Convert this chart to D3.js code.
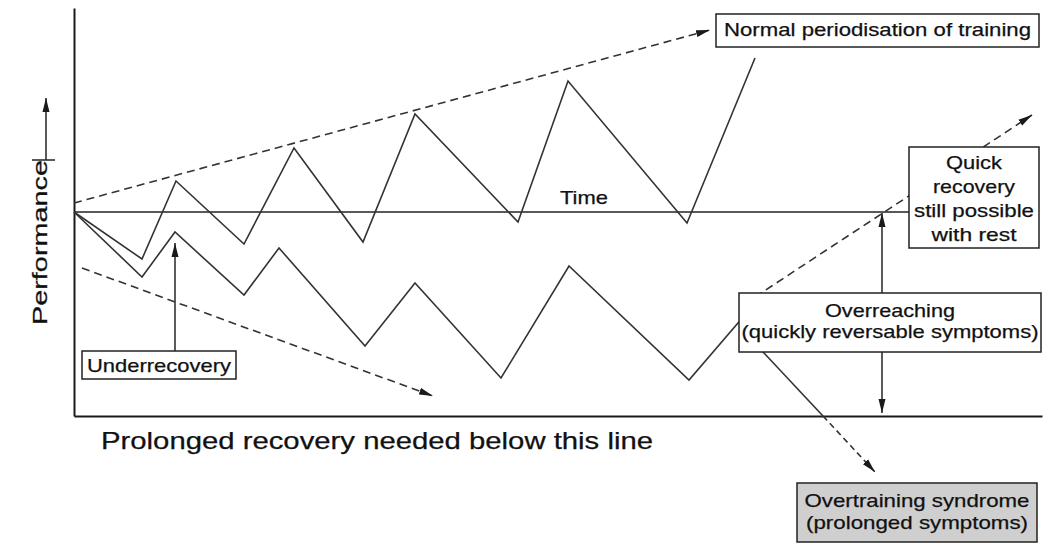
<!DOCTYPE html>
<html>
<head>
<meta charset="utf-8">
<script src="https://cdn.jsdelivr.net/npm/d3@7/dist/d3.min.js"></script>
<style>
    body { margin: 0; background: #fff; }
    text { font-family: "Liberation Sans", Arial, sans-serif; fill: #111; stroke: #111; stroke-width: 0.25; }
    .domain { stroke: #1a1a1a; stroke-width: 2; }
</style>
</head>
<body>
<div id="chart"><svg width="1061" height="551"></svg></div>
<script>

// time along the x axis, performance relative to the baseline ("Time" line)
const normalTime = [0, 68, 102, 170, 220, 289, 341, 444, 494, 613, 681];
const normalPerf = [0, -47, 31, -32, 64, -30, 98, -10, 131, -11, 154];

const overTime = [0, 68, 101, 170, 205, 291, 341, 427, 495, 615, 676];
const overPerf = [0, -65, -20, -83, -36, -134, -71, -166, -54, -168, -97];

// trend arrows: [start, end]
const upTrendTime = [0, 636];
const upTrendPerf = [9, 182];
const downTrendTime = [8, 359];
const downTrendPerf = [-56, -184];
const recoverTime = [681, 958];
const recoverPerf = [-85, 97];
const syndromeSolidTime = [676, 749];
const syndromeSolidPerf = [-126, -204];
const syndromeDashTime = [749, 801];
const syndromeDashPerf = [-204, -260];

// vertical pointer arrows
const underArrowTime = [101, 101];
const underArrowPerf = [-139, -31];
const quickArrowTime = [808, 808];
const quickArrowPerf = [-81, -1];
const prolongArrowTime = [808, 808];
const prolongArrowPerf = [-140, -201];

const timeLineEnd = 836;

function pts(ts, ps) {
    return ts.map((t, i) => ({t: t, p: ps[i]}));
}

/**********************
***** BASIC SETUP *****
**********************/

const svg = d3.select("#chart").select("svg");

const xScale = d3.scaleLinear()
    .domain([0, 968])
    .range([74, 1042]);

const yScale = d3.scaleLinear()
    .domain([-204, 204])
    .range([416, 8]);

const line = d3.line()
    .x(d => xScale(d.t))
    .y(d => yScale(d.p));

// arrow head
svg.append("defs")
    .append("marker")
    .attr("id", "head")
    .attr("markerUnits", "userSpaceOnUse")
    .attr("markerWidth", 14)
    .attr("markerHeight", 8)
    .attr("refX", 14)
    .attr("refY", 4)
    .attr("orient", "auto")
    .append("path")
    .attr("d", "M0,0.5 L14,4 L0,7.5 Z")
    .attr("fill", "#1a1a1a");

/****************
***** AXES *****
****************/

svg.append("g")
    .attr("transform", `translate(${xScale(0)}, 0)`)
    .call(d3.axisLeft(yScale).ticks(0).tickSizeOuter(0));

svg.append("g")
    .attr("transform", `translate(0, ${yScale(-204)})`)
    .call(d3.axisBottom(xScale).ticks(0).tickSizeOuter(0));

// time line
svg.append("path")
    .attr("d", line(pts([0, timeLineEnd], [0, 0])))
    .attr("stroke", "#222")
    .attr("stroke-width", 1.5)
    .attr("fill", "none");

/*******************
***** ZIGZAGS *****
*******************/

svg.append("path")
    .attr("d", line(pts(normalTime, normalPerf)))
    .attr("stroke", "#333")
    .attr("stroke-width", 1.6)
    .attr("fill", "none");

svg.append("path")
    .attr("d", line(pts(overTime, overPerf)))
    .attr("stroke", "#333")
    .attr("stroke-width", 1.6)
    .attr("fill", "none");

/*************************
***** TREND ARROWS *****
*************************/

const arrows = [
    {ts: upTrendTime, ps: upTrendPerf, dash: "8,5", head: true},
    {ts: downTrendTime, ps: downTrendPerf, dash: "8,5", head: true},
    {ts: recoverTime, ps: recoverPerf, dash: "8,5", head: true},
    {ts: syndromeSolidTime, ps: syndromeSolidPerf, dash: null, head: false},
    {ts: syndromeDashTime, ps: syndromeDashPerf, dash: "6,4", head: true},
    {ts: underArrowTime, ps: underArrowPerf, dash: null, head: true},
    {ts: quickArrowTime, ps: quickArrowPerf, dash: null, head: true},
    {ts: prolongArrowTime, ps: prolongArrowPerf, dash: null, head: true}
];

svg.selectAll(".arrow")
    .data(arrows)
    .enter()
    .append("path")
    .attr("class", "arrow")
    .attr("d", d => line(pts(d.ts, d.ps)))
    .attr("stroke", "#333")
    .attr("stroke-width", 1.6)
    .attr("stroke-dasharray", d => d.dash)
    .attr("fill", "none")
    .attr("marker-end", d => d.head ? "url(#head)" : null);

/************************
***** ANNOTATIONS *****
************************/

const boxes = [
    {x: 716, y: 14, w: 323, h: 33, fill: "#fff",
        lines: [{t: "Normal periodisation of training", len: 307, y: 36}]},
    {x: 909, y: 147, w: 130, h: 101, fill: "#fff",
        lines: [{t: "Quick", len: 56, y: 169},
                {t: "recovery", len: 82, y: 193},
                {t: "still possible", len: 120, y: 217},
                {t: "with rest", len: 85, y: 241}]},
    {x: 739, y: 293, w: 302, h: 59, fill: "#fff",
        lines: [{t: "Overreaching", len: 130, y: 317},
                {t: "(quickly reversable symptoms)", len: 297, y: 338}]},
    {x: 797, y: 483, w: 240, h: 59, fill: "#cfcfcf",
        lines: [{t: "Overtraining syndrome", len: 225, y: 507},
                {t: "(prolonged symptoms)", len: 222, y: 529}]},
    {x: 82, y: 351, w: 154, h: 28, fill: "#fff",
        lines: [{t: "Underrecovery", len: 144, y: 372}]}
];

const boxG = svg.selectAll(".box")
    .data(boxes)
    .enter()
    .append("g")
    .attr("class", "box");

boxG.append("rect")
    .attr("x", d => d.x)
    .attr("y", d => d.y)
    .attr("width", d => d.w)
    .attr("height", d => d.h)
    .attr("fill", d => d.fill)
    .attr("stroke", "#222")
    .attr("stroke-width", 1.5);

boxG.each(function(b) {
    d3.select(this).selectAll("text")
        .data(b.lines)
        .enter()
        .append("text")
        .text(d => d.t)
        .attr("x", b.x + b.w / 2)
        .attr("y", d => d.y)
        .attr("text-anchor", "middle")
        .attr("font-size", 19)
        .attr("textLength", d => d.len)
        .attr("lengthAdjust", "spacingAndGlyphs");
});

// "Time" label
svg.append("text")
    .text("Time")
    .attr("x", 584)
    .attr("y", 204)
    .attr("text-anchor", "middle")
    .attr("font-size", 19)
    .attr("textLength", 48)
    .attr("lengthAdjust", "spacingAndGlyphs");

// bottom caption
svg.append("text")
    .text("Prolonged recovery needed below this line")
    .attr("x", 101)
    .attr("y", 449)
    .attr("font-size", 24)
    .attr("textLength", 552)
    .attr("lengthAdjust", "spacingAndGlyphs");

// y axis label with arrow
svg.append("text")
    .text("Performance")
    .attr("transform", "translate(47, 325) rotate(-90)")
    .attr("font-size", 20)
    .attr("textLength", 165)
    .attr("lengthAdjust", "spacingAndGlyphs");

svg.append("line")
    .attr("x1", 46).attr("y1", 160)
    .attr("x2", 46).attr("y2", 98)
    .attr("stroke", "#222")
    .attr("stroke-width", 1.5)
    .attr("marker-end", "url(#head)");

svg.append("line")
    .attr("x1", 32).attr("y1", 160)
    .attr("x2", 55).attr("y2", 160)
    .attr("stroke", "#222")
    .attr("stroke-width", 1.5);

</script>
</body>
</html>
